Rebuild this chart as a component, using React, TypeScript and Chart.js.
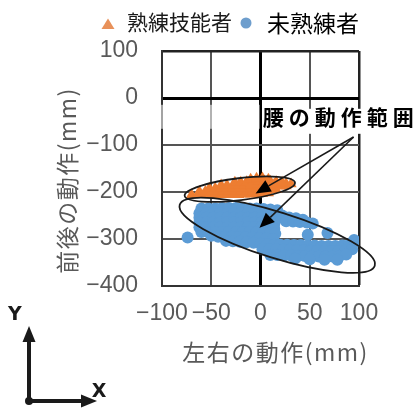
import React, { useEffect, useRef } from "react";
import { Chart, registerables } from "chart.js";

Chart.register(...registerables);

// ---- data ----
const seriesNames = ["熟練技能者", "未熟練者"];
const xTitle = "左右の動作(mm)";
const yTitle = "前後の動作(mm)";
const noteText = "腰の動作範囲";
const xTicks = [-100, -50, 0, 50, 100];
const yTicks = [-400, -300, -200, -100, 0, 100];

const skilledX = [
  -70, -64, -58, -52, -46, -40, -34, -28, -22, -16, -10, -4, 2, 8,
  -62, -56, -50, -44, -38, -32, -26, -20, -14, -8, -2, 4, 10, 16,
  -52, -46, -40, -34, -28, -22, -16, -10, -4, 2, 8, 14, 20, 26,
  -40, -34, -28, -22, -16, -10, -4, 2, 8, 14, 20, 26, 31,
  -26, -20, -14, -8, -2, 4, 10, 16, 22,
  -10, -4, 2, 8,
];
const skilledY = [
  -206, -206, -206, -206, -206, -206, -206, -206, -206, -205, -205, -204, -203, -202,
  -199, -199, -199, -199, -199, -199, -199, -199, -199, -198, -198, -197, -196, -195,
  -192, -192, -192, -192, -192, -192, -192, -192, -192, -191, -190, -189, -188, -187,
  -185, -185, -185, -185, -185, -185, -184, -184, -184, -183, -182, -182, -183,
  -179, -179, -178, -178, -177, -177, -177, -178, -179,
  -173, -171, -170, -173,
];

const unskilledX = [
  -60, -53, -46, -39, -32, -25, -18, -11, -4, 3, 10, 17,
  -62, -55, -48, -41, -34, -27, -20, -13, -6, 1, 8, 15, 22,
  -62, -55, -48, -41, -34, -27, -20, -13, -6, 1, 8, 15, 22, 29, 36, 43,
  26, 33, 40, 47, 53,
  -62, -55, -48, -41, -34, -27, -20, -13, -6, 1, 8, 14,
  -62, -55, -48, -41, -34, -27, -20, -13, -6, 1, 8, 14,
  -60, -53, -46, -39, -32, -25, -18, -11, -4, 3, 10, 15,
  -50, -43, -36, -29, -22, -15, -8, -1, 6, 13,
  -35, -28, -21, -14, -7, 0, 7, 14,
  20, 27, 34, 41, 48, 55, 62, 69, 76, 83, 90, 95,
  2, 9, 16, 23, 30, 37, 44, 51, 58, 65, 72, 79, 86, 93,
  10, 17, 24, 31, 38, 45, 52, 59, 66, 73, 80, 87,
  35, 50, 65, 78,
  -74, 48, 68, 95,
];
const unskilledY = [
  -235, -235, -235, -234, -234, -234, -234, -235, -235, -236, -237, -239,
  -245, -245, -245, -245, -245, -245, -245, -245, -245, -246, -247, -248, -250,
  -255, -255, -255, -255, -255, -255, -255, -255, -255, -255, -256, -257, -255, -254, -256, -259,
  -262, -263, -264, -265, -267,
  -265, -265, -265, -265, -265, -265, -265, -265, -265, -265, -266, -268,
  -275, -275, -275, -275, -275, -275, -275, -275, -275, -275, -276, -278,
  -285, -285, -285, -285, -285, -285, -285, -285, -285, -286, -287, -289,
  -293, -295, -295, -295, -296, -296, -297, -298, -299, -300,
  -304, -305, -306, -307, -308, -310, -311, -312,
  -312, -312, -313, -313, -314, -314, -315, -315, -315, -314, -312, -308,
  -322, -322, -322, -323, -323, -324, -324, -325, -325, -326, -326, -326, -325, -322,
  -334, -334, -335, -335, -336, -336, -337, -337, -337, -337, -336, -333,
  -342, -343, -344, -344,
  -297, -291, -287, -302,
];

// range ellipses and arrow targets, in data units
const ellipseX1 = [-77, -82];
const ellipseY1 = [-208, -227];
const ellipseX2 = [35, 116];
const ellipseY2 = [-180, -357];
const ellipseHalfWidth = [11, 23];
const arrowFromX = 94.5;
const arrowFromY = -83;
const arrowToX = [-5, -1];
const arrowToY = [-203, -276];
const noteX = 2.3;
const noteY = -40;

const ORANGE = "#ED7D31";
const BLUE = "#5B9BD5";
const GRAY = "#595959";
const CJK = '"Noto Sans CJK JP", "Noto Sans", sans-serif';
const LATIN = '"Liberation Sans", Arial, sans-serif';

const fmt = (v: number) => (v < 0 ? "\u2212" + Math.abs(v) : String(v));

const decor = {
  id: "decor",
  afterDatasetsDraw(chart: any) {
    const { ctx, scales } = chart;
    const xs = scales.x;
    const ys = scales.y;
    const px = (v: number) => xs.getPixelForValue(v);
    const py = (v: number) => ys.getPixelForValue(v);
    ctx.save();
    // ellipses
    ctx.strokeStyle = "#1a1a1a";
    ctx.lineWidth = 1.8;
    for (let i = 0; i < ellipseX1.length; i++) {
      const x1 = px(ellipseX1[i]), y1 = py(ellipseY1[i]);
      const x2 = px(ellipseX2[i]), y2 = py(ellipseY2[i]);
      const cx = (x1 + x2) / 2, cy = (y1 + y2) / 2;
      const a = Math.hypot(x2 - x1, y2 - y1) / 2;
      const ang = Math.atan2(y2 - y1, x2 - x1);
      ctx.beginPath();
      ctx.ellipse(cx, cy, a, ellipseHalfWidth[i], ang, 0, Math.PI * 2);
      ctx.stroke();
    }
    // note box + text
    const nx = px(noteX), ny = py(noteY);
    ctx.fillStyle = "rgba(255,255,255,0.55)";
    ctx.fillRect(150, ny - 12, nx - 153, 24);
    ctx.fillStyle = "#fff";
    ctx.fillRect(nx, ny - 8, 414 - nx, 25);
    ctx.fillStyle = "#000";
    ctx.font = `bold 21px ${CJK}`;
    ctx.textAlign = "left";
    ctx.textBaseline = "middle";
    (ctx as any).letterSpacing = "5px";
    ctx.fillText(noteText, nx, ny);
    (ctx as any).letterSpacing = "0px";
    // arrows
    const sx = px(arrowFromX), sy = py(arrowFromY);
    ctx.strokeStyle = "#1a1a1a";
    ctx.fillStyle = "#000";
    ctx.lineWidth = 1.6;
    for (let i = 0; i < arrowToX.length; i++) {
      const tx = px(arrowToX[i]), ty = py(arrowToY[i]);
      const ang = Math.atan2(ty - sy, tx - sx);
      const L = 15, W = 6.5;
      const bx = tx - L * Math.cos(ang), by = ty - L * Math.sin(ang);
      ctx.beginPath();
      ctx.moveTo(sx, sy);
      ctx.lineTo(bx, by);
      ctx.stroke();
      ctx.beginPath();
      ctx.moveTo(tx, ty);
      ctx.lineTo(bx + W * Math.sin(ang), by - W * Math.cos(ang));
      ctx.lineTo(bx - W * Math.sin(ang), by + W * Math.cos(ang));
      ctx.closePath();
      ctx.fill();
    }
    ctx.restore();
  },
  afterDraw(chart: any) {
    const { ctx, chartArea } = chart;
    ctx.save();
    // axis titles
    ctx.fillStyle = GRAY;
    ctx.font = `23px ${CJK}`;
    ctx.textAlign = "center";
    ctx.textBaseline = "middle";
    (ctx as any).letterSpacing = "1.5px";
    ctx.fillText(xTitle, (chartArea.left + chartArea.right) / 2 + 15, 352);
    ctx.save();
    ctx.translate(67, (chartArea.top + chartArea.bottom) / 2 + 12);
    ctx.rotate(-Math.PI / 2);
    ctx.fillText(yTitle, 0, 0);
    ctx.restore();
    (ctx as any).letterSpacing = "0px";
    // legend
    ctx.fillStyle = "#E8915A";
    ctx.beginPath();
    ctx.moveTo(108, 18.5);
    ctx.lineTo(114.5, 29);
    ctx.lineTo(101.5, 29);
    ctx.closePath();
    ctx.fill();
    ctx.fillStyle = "#6E9ECD";
    ctx.beginPath();
    ctx.arc(246, 23, 5.5, 0, Math.PI * 2);
    ctx.fill();
    ctx.fillStyle = "#1a1a1a";
    ctx.textAlign = "left";
    ctx.font = `21px ${CJK}`;
    ctx.fillText(seriesNames[0], 127, 22);
    ctx.fillStyle = "#000";
    ctx.font = `23px ${CJK}`;
    ctx.fillText(seriesNames[1], 267, 23);
    // axis direction indicator
    ctx.strokeStyle = "#1a1a1a";
    ctx.fillStyle = "#1a1a1a";
    ctx.lineWidth = 4;
    ctx.beginPath();
    ctx.moveTo(29, 401);
    ctx.lineTo(29, 338);
    ctx.moveTo(29, 401);
    ctx.lineTo(84, 401);
    ctx.stroke();
    ctx.beginPath();
    ctx.moveTo(29, 326);
    ctx.lineTo(35.5, 342);
    ctx.lineTo(22.5, 342);
    ctx.closePath();
    ctx.fill();
    ctx.beginPath();
    ctx.moveTo(97, 401);
    ctx.lineTo(81, 394.5);
    ctx.lineTo(81, 407.5);
    ctx.closePath();
    ctx.fill();
    ctx.beginPath();
    ctx.arc(29, 401, 4, 0, Math.PI * 2);
    ctx.fill();
    ctx.font = `bold 19px "DejaVu Sans", sans-serif`;
    ctx.textAlign = "center";
    ctx.fillText("Y", 15, 315);
    ctx.fillText("X", 99, 392);
    ctx.restore();
  },
};

export default function App() {
  const ref = useRef<HTMLCanvasElement | null>(null);
  useEffect(() => {
    document.body.style.margin = "0";
    const canvas = ref.current;
    if (!canvas) return;
    const gridColor = (c: any) => {
      const v = c.tick ? c.tick.value : null;
      if (v === 0) return "#000";
      if (v === 100) return "#222";
      return "#555";
    };
    const gridWidth = (c: any) => {
      const v = c.tick ? c.tick.value : null;
      if (v === 0) return 3;
      if (v === 100) return 2.5;
      return 2;
    };
    const chart = new Chart(canvas, {
      type: "scatter",
      data: {
        datasets: [
          {
            label: seriesNames[0],
            data: skilledX.map((x, i) => ({ x, y: skilledY[i] })),
            pointStyle: "triangle",
            pointRadius: 6.5,
            backgroundColor: ORANGE,
            borderColor: ORANGE,
            borderWidth: 0,
          },
          {
            label: seriesNames[1],
            data: unskilledX.map((x, i) => ({ x, y: unskilledY[i] })),
            pointStyle: "circle",
            pointRadius: 6,
            backgroundColor: BLUE,
            borderColor: BLUE,
            borderWidth: 0,
          },
        ],
      },
      options: {
        animation: false,
        responsive: false,
        maintainAspectRatio: false,
        layout: { padding: { left: 0, top: 51, right: 55, bottom: 0 } },
        plugins: { legend: { display: false }, tooltip: { enabled: false } },
        scales: {
          x: {
            type: "linear",
            min: -100,
            max: 100,
            afterBuildTicks: (s: any) => {
              s.ticks = xTicks.map((v) => ({ value: v }));
            },
            afterFit: (s: any) => {
              s.height = 122;
            },
            grid: { color: gridColor, lineWidth: gridWidth, drawTicks: false },
            border: { display: true, color: "#333", width: 2 },
            ticks: {
              autoSkip: false,
              maxRotation: 0,
              padding: 14,
              color: GRAY,
              font: { family: LATIN, size: 23 },
              callback: (v: any) => fmt(Number(v)),
            },
          },
          y: {
            type: "linear",
            min: -400,
            max: 100,
            afterBuildTicks: (s: any) => {
              s.ticks = yTicks.map((v) => ({ value: v }));
            },
            afterFit: (s: any) => {
              s.width = 162;
            },
            grid: { color: gridColor, lineWidth: gridWidth, drawTicks: false },
            border: { display: true, color: "#333", width: 2 },
            ticks: {
              autoSkip: false,
              padding: 24,
              color: GRAY,
              font: { family: LATIN, size: 23 },
              callback: (v: any) => fmt(Number(v)),
            },
          },
        },
      },
      plugins: [decor],
    });
    return () => chart.destroy();
  }, []);
  return (
    <canvas
      ref={ref}
      width={414}
      height={408}
      style={{ display: "block", width: 414, height: 408 }}
    />
  );
}
